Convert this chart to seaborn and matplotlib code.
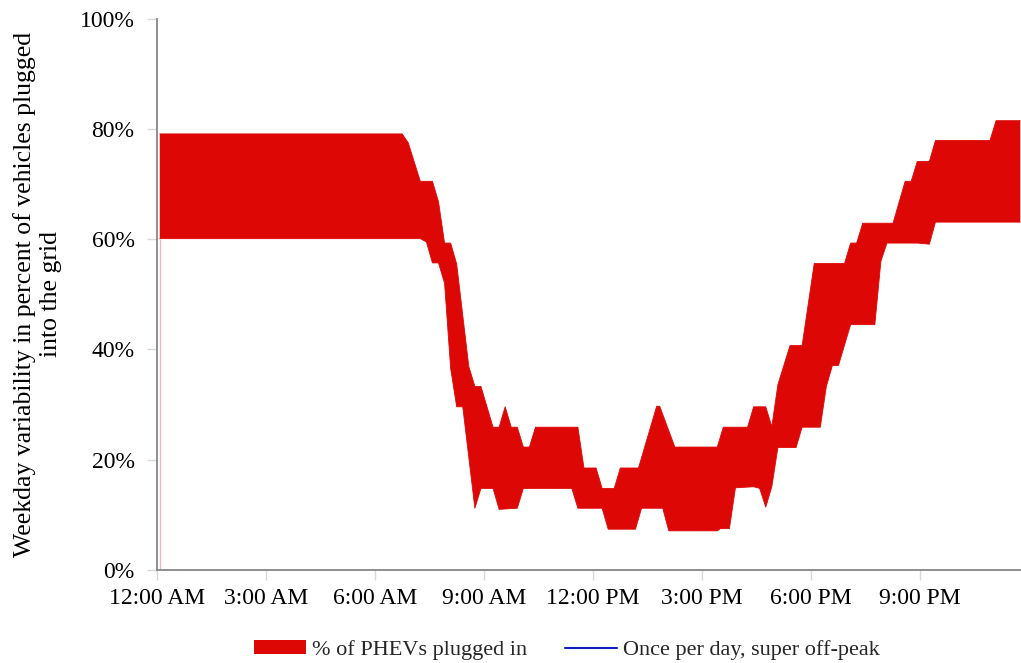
import numpy as np
import matplotlib
matplotlib.use("Agg")
import matplotlib.pyplot as plt
from matplotlib.patches import Patch
from matplotlib.lines import Line2D
import seaborn as sns

# Upper and lower bound of the share of PHEVs plugged in (weekday), in percent
upper_times = ["0:05", "6:45", "6:55", "7:15", "7:35", "7:45", "7:55", "8:05", "8:15", "8:35",
               "8:45", "8:55", "9:15", "9:25", "9:35", "9:45", "9:55", "10:05", "10:15", "10:25",
               "11:35", "11:45", "12:05", "12:15", "12:35", "12:45", "13:15", "13:45", "13:50", "14:15",
               "15:25", "15:35", "16:15", "16:25", "16:45", "16:55", "17:05", "17:25", "17:45", "18:05",
               "18:55", "19:05", "19:15", "19:25", "20:15", "20:35", "20:45", "20:55", "21:15", "21:25",
               "22:55", "23:05", "23:45"]
upper_pct = [79.1, 79.1, 77.5, 70.5, 70.5, 66.8, 59.3, 59.3, 55.5, 36.9,
             33.3, 33.3, 25.9, 25.9, 29.6, 25.9, 25.9, 22.3, 22.3, 25.9,
             25.9, 18.5, 18.5, 14.8, 14.8, 18.5, 18.5, 29.7, 29.7, 22.3,
             22.3, 25.9, 25.9, 29.6, 29.6, 26.0, 33.6, 40.7, 40.7, 55.6,
             55.6, 59.3, 59.3, 62.9, 62.9, 70.5, 70.5, 74.1, 74.1, 77.9,
             77.9, 81.5, 81.5]

lower_times = ["0:05", "7:15", "7:25", "7:35", "7:45", "7:55", "8:05", "8:15", "8:25", "8:45",
               "8:55", "9:15", "9:25", "9:55", "10:05", "11:25", "11:35", "12:15", "12:25", "13:10",
               "13:20", "13:55", "14:05", "15:25", "15:30", "15:45", "15:55", "16:25", "16:35", "16:45",
               "16:55", "17:05", "17:35", "17:45", "18:15", "18:25", "18:35", "18:45", "19:05", "19:45",
               "19:55", "20:05", "20:55", "21:15", "21:25", "23:45"]
lower_pct = [60.1, 60.1, 59.5, 55.7, 55.7, 52.0, 36.6, 29.6, 29.6, 11.2,
             14.8, 14.8, 11.0, 11.2, 14.8, 14.8, 11.2, 11.2, 7.4, 7.4,
             11.2, 11.2, 7.1, 7.1, 7.5, 7.5, 14.9, 15.1, 14.8, 11.4,
             15.1, 22.2, 22.2, 25.9, 25.9, 33.3, 37.1, 37.1, 44.5, 44.5,
             56.0, 59.3, 59.3, 59.1, 63.1, 63.1]

tick_hours = [0, 3, 6, 9, 12, 15, 18, 21]
tick_labels = ["12:00 AM", "3:00 AM", "6:00 AM", "9:00 AM",
               "12:00 PM", "3:00 PM", "6:00 PM", "9:00 PM"]
y_ticks = [0, 20, 40, 60, 80, 100]

series_names = ["% of PHEVs plugged in", "Once per day, super off-peak"]
band_color = "#DD0806"
line_color = "#1020C0"


def to_hours(labels):
    out = []
    for s in labels:
        h, m = s.split(":")
        out.append(int(h) + int(m) / 60.0)
    return np.array(out)


up_t, lo_t = to_hours(upper_times), to_hours(lower_times)
up_v, lo_v = np.array(upper_pct), np.array(lower_pct)

sns.set_theme(style="white")
plt.rcParams["font.family"] = ["Liberation Serif", "DejaVu Serif"]

fig = plt.figure(figsize=(10.21, 6.63), dpi=100)
ax = fig.add_axes([0.1535, 0.1403, 0.8465, 0.8315])

# Edges of the band, then the band itself as a closed polygon
sns.lineplot(x=up_t, y=up_v, ax=ax, color=band_color, lw=0.6, estimator=None, sort=False)
sns.lineplot(x=lo_t, y=lo_v, ax=ax, color=band_color, lw=0.6, estimator=None, sort=False)
ax.fill(np.r_[up_t, lo_t[::-1]], np.r_[up_v, lo_v[::-1]], color=band_color, lw=0)
ax.vlines(lo_t[0], 0, lo_v[0], color="#F4B3B3", lw=0.9)

ax.set_xlim(0, 23.77)
ax.set_ylim(0, 100)
ax.set_xticks(tick_hours)
ax.set_xticklabels(tick_labels)
ax.set_yticks(y_ticks)
ax.set_yticklabels([f"{v}%" for v in y_ticks])

for side in ("top", "right"):
    ax.spines[side].set_visible(False)
for side in ("left", "bottom"):
    ax.spines[side].set_color("#868686")
    ax.spines[side].set_linewidth(1.3)

ax.tick_params(axis="both", which="major", length=7, width=1, color="#D9D9D9",
               labelsize=17, labelcolor="black", direction="out")
ax.tick_params(axis="y", pad=9)
ax.tick_params(axis="x", pad=6)
ax.tick_params(left=True, bottom=True)

ax.set_ylabel("Weekday variability in percent of vehicles plugged\ninto the grid",
              fontsize=18.5, color="black", labelpad=13, linespacing=1.2)
ax.set_xlabel("")
ax.grid(False)

handles = [Patch(facecolor=band_color, edgecolor="none"),
           Line2D([0], [0], color=line_color, lw=1.5)]
fig.legend(handles, series_names, loc="center", bbox_to_anchor=(0.555, 0.0196),
           ncol=2, frameon=False, fontsize=16, handlelength=2.35, handleheight=0.55,
           handletextpad=0.25, columnspacing=1.7)

fig.savefig("out.png", dpi=100)
